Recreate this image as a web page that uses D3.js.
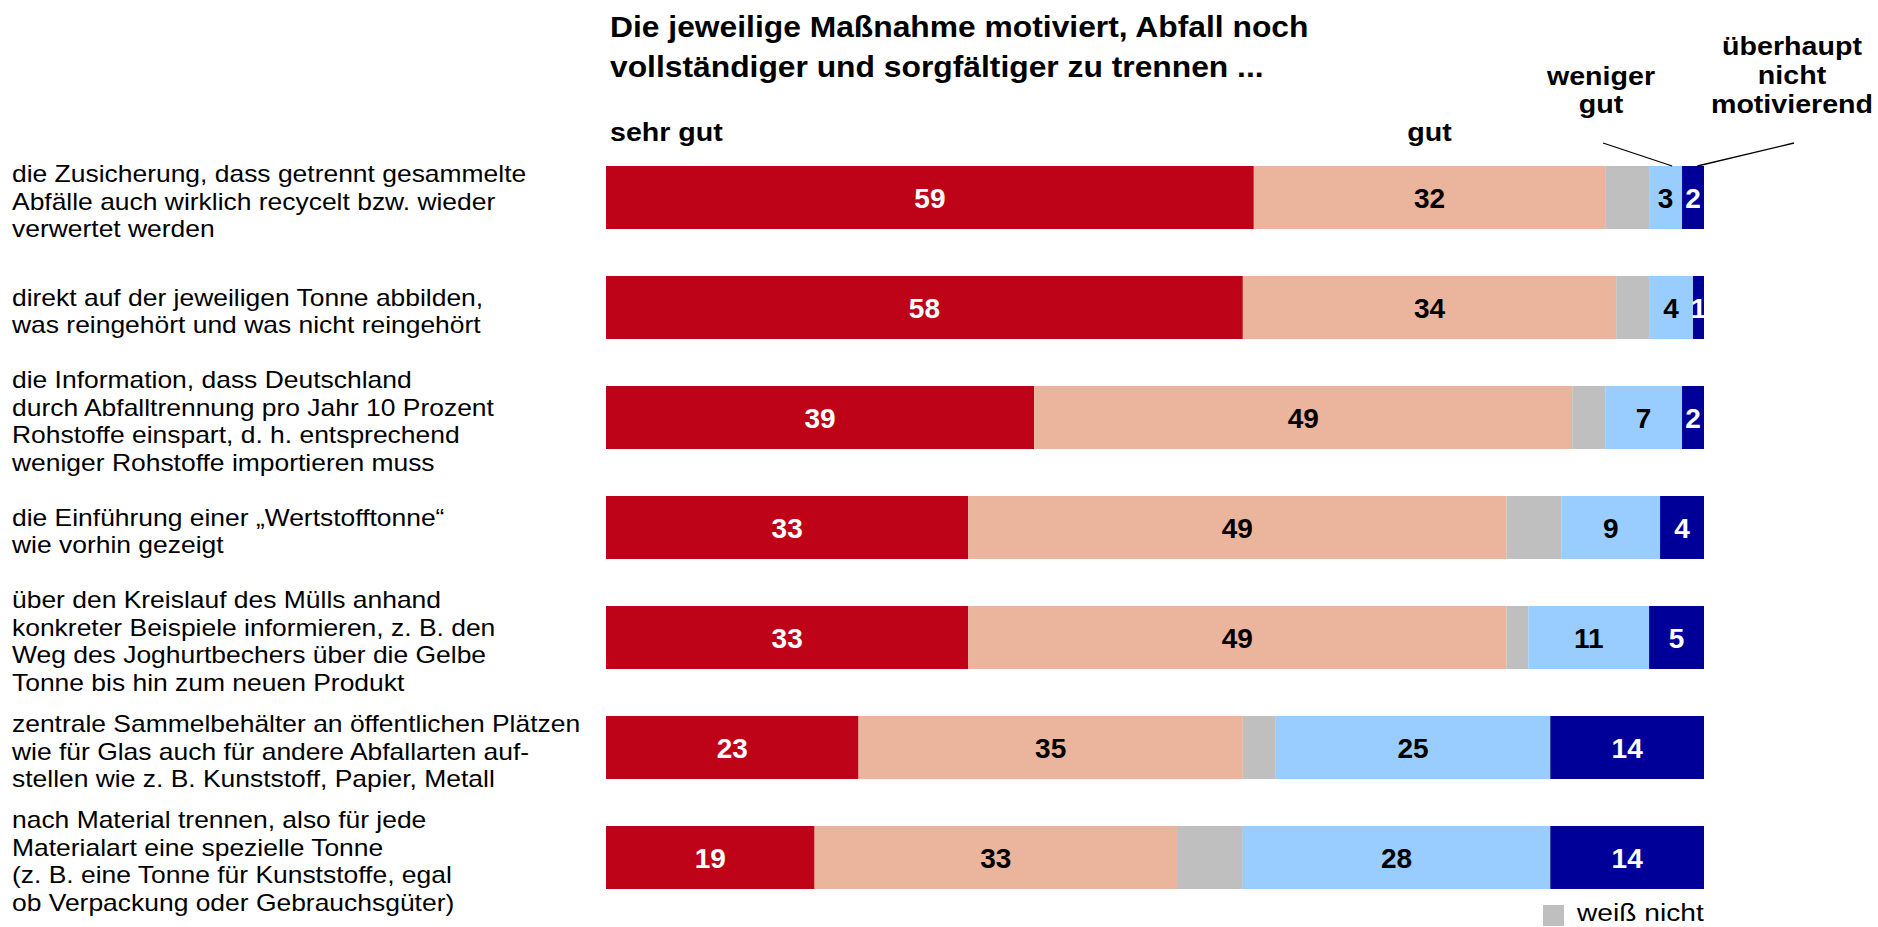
<!DOCTYPE html>
<html lang="de">
<head>
<meta charset="utf-8">
<script src="https://cdn.jsdelivr.net/npm/d3@7"></script>
<style>
  html, body { margin: 0; padding: 0; background: #ffffff; }
  svg { display: block; font-family: "Liberation Sans", Arial, Helvetica, sans-serif; }
</style>
</head>
<body>
<svg id="chart" width="1878" height="927"></svg>
<script>
// Measures (row labels, one line per array entry)
const categories = [
  ["die Zusicherung, dass getrennt gesammelte", "Abfälle auch wirklich recycelt bzw. wieder", "verwertet werden"],
  ["direkt auf der jeweiligen Tonne abbilden,", "was reingehört und was nicht reingehört"],
  ["die Information, dass Deutschland", "durch Abfalltrennung pro Jahr 10 Prozent", "Rohstoffe einspart, d. h. entsprechend", "weniger Rohstoffe importieren muss"],
  ["die Einführung einer „Wertstofftonne“", "wie vorhin gezeigt"],
  ["über den Kreislauf des Mülls anhand", "konkreter Beispiele informieren, z. B. den", "Weg des Joghurtbechers über die Gelbe", "Tonne bis hin zum neuen Produkt"],
  ["zentrale Sammelbehälter an öffentlichen Plätzen", "wie für Glas auch für andere Abfallarten auf-", "stellen wie z. B. Kunststoff, Papier, Metall"],
  ["nach Material trennen, also für jede", "Materialart eine spezielle Tonne", "(z. B. eine Tonne für Kunststoffe, egal", "ob Verpackung oder Gebrauchsgüter)"]
];

// Percentages per answer
const sehrGut         = [59, 58, 39, 33, 33, 23, 19];
const gut             = [32, 34, 49, 49, 49, 35, 33];
const weissNicht      = [4, 3, 3, 5, 2, 3, 6];
const wenigerGut      = [3, 4, 7, 9, 11, 25, 28];
const ueberhauptNicht = [2, 1, 2, 4, 5, 14, 14];

const seriesNames  = ["sehr gut", "gut", "weiß nicht", "weniger gut", "überhaupt nicht motivierend"];
const seriesValues = [sehrGut, gut, weissNicht, wenigerGut, ueberhauptNicht];
const seriesColors = ["#BE0318", "#EBB49C", "#BFBFBF", "#99CCFF", "#000099"];
const labelColors  = ["#ffffff", "#000000", null, "#000000", "#ffffff"];

const titleLines = ["Die jeweilige Maßnahme motiviert, Abfall noch", "vollständiger und sorgfältiger zu trennen ..."];
const legendLabel = "weiß nicht";

const svg = d3.select("#chart");

const x = d3.scaleLinear().domain([0, 100]).range([606, 1704]);
const y = d3.scaleBand()
  .domain(d3.range(categories.length))
  .range([142.5, 912.5])
  .paddingInner(47 / 110)
  .paddingOuter(47 / 220);

// text helper: glyphs are drawn slightly widened horizontally
function addText(parent, px, py, str, opt) {
  const o = Object.assign({ size: 23, weight: "normal", anchor: "start", sx: 1.15, fill: "#000" }, opt || {});
  return parent.append("text")
    .attr("transform", `translate(${px},${py}) scale(${o.sx},1)`)
    .attr("text-anchor", o.anchor)
    .style("font-size", o.size + "px")
    .style("font-weight", o.weight)
    .attr("fill", o.fill)
    .text(str);
}

// stacked data
const rows = categories.map((c, i) => {
  let cum = 0;
  return seriesValues.map((vals, s) => {
    const seg = { row: i, series: s, start: cum, value: vals[i] };
    cum += vals[i];
    return seg;
  });
});

// bars
const gBars = svg.append("g");
rows.forEach(segs => {
  gBars.selectAll(null)
    .data(segs)
    .join("rect")
    .attr("x", d => x(d.start))
    .attr("y", d => y(d.row))
    .attr("width", d => x(d.start + d.value) - x(d.start))
    .attr("height", y.bandwidth())
    .attr("fill", d => seriesColors[d.series]);
});

// value labels
const gVals = svg.append("g");
rows.forEach(segs => {
  segs.filter(d => labelColors[d.series]).forEach(d => {
    addText(gVals, x(d.start + d.value / 2), y(d.row) + y.bandwidth() / 2 + 10.5, String(d.value),
      { size: 28, weight: "bold", anchor: "middle", sx: 1.0, fill: labelColors[d.series] });
  });
});

// row labels
const gCats = svg.append("g");
const lineH = 27.5;
categories.forEach((lines, i) => {
  const cy = y(i) + y.bandwidth() / 2 + 4;
  lines.forEach((ln, k) => {
    const by = cy + (k - (lines.length - 1) / 2) * lineH + 8;
    addText(gCats, 12, by, ln, { size: 23, sx: 1.15 });
  });
});

// title
titleLines.forEach((t, k) => addText(svg, 610, 37 + k * 39.5, t, { size: 30, weight: "bold", sx: 1.06 }));

// column headers
const hdr = { size: 26, weight: "bold", sx: 1.1 };
const r0 = rows[0];
addText(svg, 610, 141, seriesNames[0], hdr);
addText(svg, x(r0[1].start + r0[1].value / 2), 141, seriesNames[1], Object.assign({ anchor: "middle" }, hdr));
addText(svg, 1601, 85, "weniger", Object.assign({ anchor: "middle" }, hdr));
addText(svg, 1601, 113, "gut", Object.assign({ anchor: "middle" }, hdr));
["überhaupt", "nicht", "motivierend"].forEach((t, k) =>
  addText(svg, 1792, 55 + k * 29, t, Object.assign({ anchor: "middle" }, hdr)));

// leader lines from headers to the first row
const top0 = y(0);
svg.append("line")
  .attr("x1", 1603).attr("y1", 143)
  .attr("x2", x(r0[3].start + r0[3].value * 0.7)).attr("y2", top0)
  .attr("stroke", "#000").attr("stroke-width", 1.3);
svg.append("line")
  .attr("x1", 1794).attr("y1", 143)
  .attr("x2", x(r0[4].start + r0[4].value * 0.7)).attr("y2", top0)
  .attr("stroke", "#000").attr("stroke-width", 1.3);

// legend for "weiß nicht"
svg.append("rect")
  .attr("x", 1543).attr("y", 905).attr("width", 21).attr("height", 21)
  .attr("fill", seriesColors[2]);
addText(svg, 1577, 921, legendLabel, { size: 24.5, sx: 1.15 });
</script>
</body>
</html>
